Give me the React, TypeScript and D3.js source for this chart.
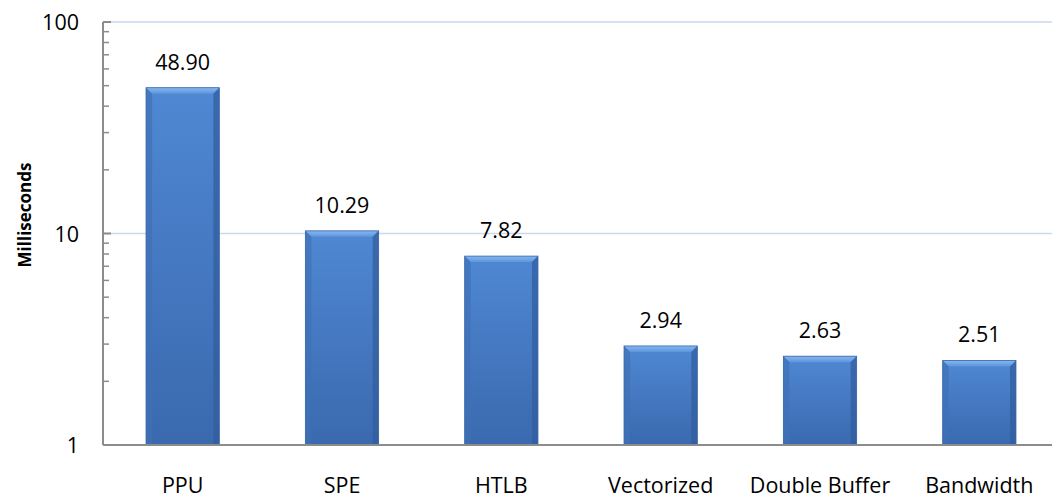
import React from "react";
import * as d3 from "d3";

const categories = ["PPU", "SPE", "HTLB", "Vectorized", "Double Buffer", "Bandwidth"];
const values = [48.9, 10.29, 7.82, 2.94, 2.63, 2.51];
const valueLabels = ["48.90", "10.29", "7.82", "2.94", "2.63", "2.51"];
const yTicks = [1, 10, 100];
const yTitle = "Milliseconds";

const W = 1052;
const H = 502;
const left = 103;
const right = 1059;
const top = 22;
const bottom = 445;
const font = "'Open Sans', sans-serif";
const fs = 21.5;

export default function App() {
  const x = d3.scaleBand<string>().domain(categories).range([left, right]).paddingInner(0.54).paddingOuter(0.27);
  const y = d3.scaleLog().domain([1, 100]).range([bottom, top]);
  const minor: number[] = [];
  [1, 10].forEach((d) => {
    for (let k = 2; k <= 9; k++) minor.push(d * k);
  });
  const bw = x.bandwidth();
  const bev = 6;
  return (
    <svg width={W} height={H} style={{ position: "absolute", left: 0, top: 0, background: "#fff" }}>
      <defs>
        <linearGradient id="face" x1="0" y1="0" x2="0" y2="1">
          <stop offset="0" stopColor="#4f88d3" />
          <stop offset="1" stopColor="#3a69ae" />
        </linearGradient>
        <linearGradient id="topb" x1="0" y1="0" x2="0" y2="1">
          <stop offset="0" stopColor="#86b6f0" />
          <stop offset="1" stopColor="#5d96dd" />
        </linearGradient>
      </defs>
      {yTicks.filter((t) => t > 1).map((t) => (
        <line key={"g" + t} x1={left} x2={W} y1={y(t)} y2={y(t)} stroke="#c9d9ee" strokeWidth={1.5} />
      ))}
      {categories.map((c, i) => {
        const x0 = x(c)!;
        const x1 = x0 + bw;
        const y0 = y(values[i]);
        const y1 = bottom;
        return (
          <g key={c}>
            <rect x={x0} y={y0} width={bw} height={y1 - y0} fill="url(#face)" />
            <polygon points={`${x0},${y0} ${x1},${y0} ${x1 - bev},${y0 + bev} ${x0 + bev},${y0 + bev}`} fill="url(#topb)" />
            <polygon points={`${x0},${y0} ${x0 + bev},${y0 + bev} ${x0 + bev},${y1} ${x0},${y1}`} fill="#3e70b6" opacity={0.7} />
            <polygon points={`${x1},${y0} ${x1 - bev},${y0 + bev} ${x1 - bev},${y1} ${x1},${y1}`} fill="#305c9c" opacity={0.7} />
            <rect x={x0} y={y0} width={bw} height={y1 - y0} fill="none" stroke="#3a68a8" strokeWidth={0.8} />
            <text x={x0 + bw / 2} y={y0 - 18} textAnchor="middle" fontFamily={font} fontSize={fs} fill="#000">
              {valueLabels[i]}
            </text>
            <text x={x0 + bw / 2} y={493} textAnchor="middle" fontFamily={font} fontSize={fs} fill="#000">
              {c}
            </text>
          </g>
        );
      })}
      <line x1={left} x2={left} y1={top} y2={bottom} stroke="#8c8c8c" strokeWidth={2} />
      <line x1={left} x2={W} y1={bottom} y2={bottom} stroke="#8c8c8c" strokeWidth={2} />
      {minor.map((t) => (
        <line key={"m" + t} x1={left} x2={left + 6} y1={y(t)} y2={y(t)} stroke="#8c8c8c" strokeWidth={1.5} />
      ))}
      {yTicks.map((t) => (
        <g key={"t" + t}>
          <line x1={left} x2={left + 8} y1={y(t)} y2={y(t)} stroke="#8c8c8c" strokeWidth={2} />
          <text x={79} y={y(t) + 8} textAnchor="end" fontFamily={font} fontSize={fs} fill="#000">
            {t}
          </text>
        </g>
      ))}
      <text transform={`translate(31,215) rotate(-90)`} textAnchor="middle" fontFamily={font} fontWeight="bold" fontSize={17} fill="#000">
        {yTitle}
      </text>
    </svg>
  );
}
